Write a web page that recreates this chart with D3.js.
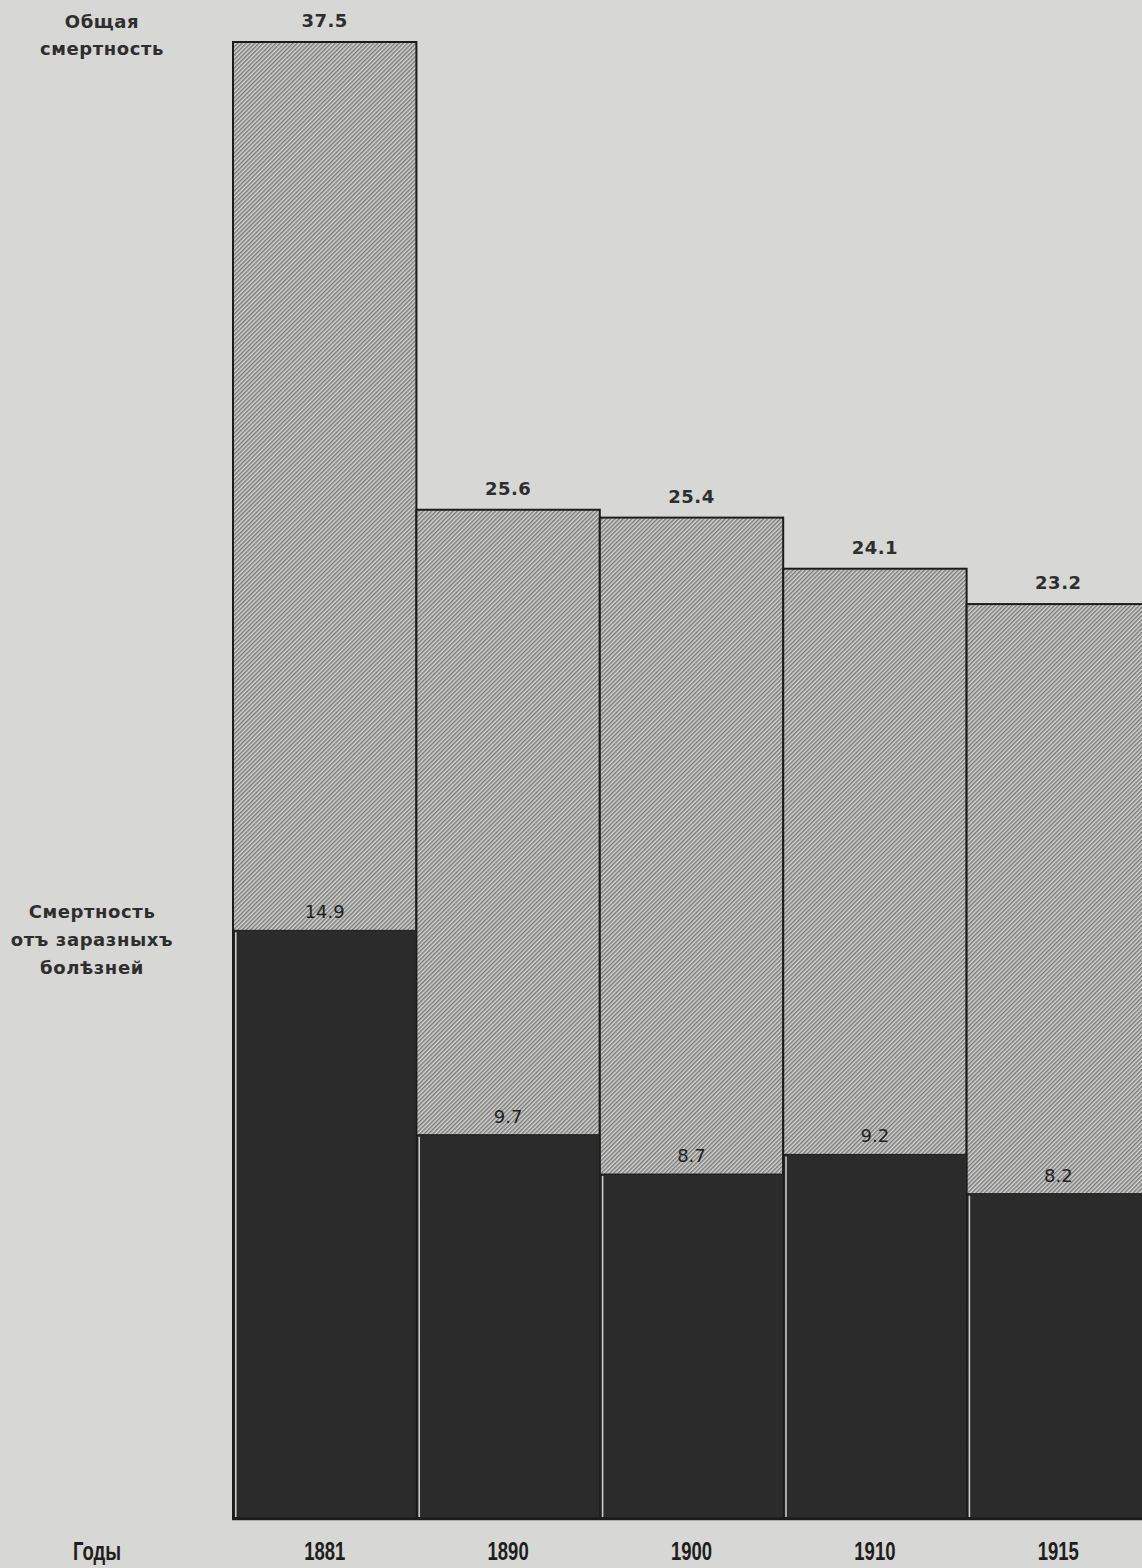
<!DOCTYPE html>
<html>
<head>
<meta charset="utf-8">
<script src="https://cdn.jsdelivr.net/npm/d3@7"></script>
<style>
  body { margin: 0; background: #d7d7d5; overflow: hidden; }
  svg { display: block; }
</style>
</head>
<body>
<div id="chart"></div>
<script>
// data
const years = ["1881", "1890", "1900", "1910", "1915"];
const totalMortality = [37.5, 25.6, 25.4, 24.1, 23.2];
const infectiousMortality = [14.9, 9.7, 8.7, 9.2, 8.2];
const totalLabel = ["Общая", "смертность"];
const infectiousLabel = ["Смертность", "отъ заразныхъ", "болѣзней"];
const yearsLabel = "Годы";

const W = 1142, H = 1568;
const labelFont = "'DejaVu Sans', 'Liberation Sans', sans-serif";
const yearFont = "'Liberation Sans', Arial, sans-serif";

const svg = d3.select("#chart").append("svg")
  .attr("width", W).attr("height", H);

// fine hatch pattern "/"
const defs = svg.append("defs");
const pat = defs.append("pattern")
  .attr("id", "hatch")
  .attr("patternUnits", "userSpaceOnUse")
  .attr("width", 3).attr("height", 3)
  .attr("patternTransform", "rotate(45)");
pat.append("rect").attr("width", 3).attr("height", 3).attr("fill", "#d4d4d2");
pat.append("line")
  .attr("x1", 0.75).attr("x2", 0.75).attr("y1", 0).attr("y2", 3)
  .attr("stroke", "#767676").attr("stroke-width", 1.4);

// scales
const x = d3.scaleBand().domain(years).range([233, 1150]).padding(0);
const y = d3.scaleLinear().domain([0, 37.5]).range([1516, 42]);
const base = 1519;

const rows = years.map((yr, i) => ({ yr, total: totalMortality[i], inf: infectiousMortality[i] }));

// hatched total bars
svg.selectAll("rect.total").data(rows).join("rect")
  .attr("class", "total")
  .attr("x", d => x(d.yr))
  .attr("y", d => y(d.total))
  .attr("width", x.bandwidth())
  .attr("height", d => base - y(d.total))
  .attr("fill", "url(#hatch)")
  .attr("stroke", "#1c1c1c")
  .attr("stroke-width", 2);

// dark infectious bars
svg.selectAll("rect.inf").data(rows).join("rect")
  .attr("class", "inf")
  .attr("x", d => x(d.yr) + 1)
  .attr("y", d => y(d.inf))
  .attr("width", x.bandwidth() - 1)
  .attr("height", d => base - y(d.inf) - 1)
  .attr("fill", "#2b2b2b")
  .attr("stroke", "#1c1c1c")
  .attr("stroke-width", 1);

// light separator lines on left edges of the dark bars
svg.selectAll("line.sep").data(rows).join("line")
  .attr("class", "sep")
  .attr("x1", d => x(d.yr) + 2.8).attr("x2", d => x(d.yr) + 2.8)
  .attr("y1", d => y(d.inf) + 2).attr("y2", base - 2)
  .attr("stroke", "#c8c8c6")
  .attr("stroke-width", 1.6);

// bottom line
svg.append("line")
  .attr("x1", x(years[0]) - 1).attr("x2", W)
  .attr("y1", base).attr("y2", base)
  .attr("stroke", "#1c1c1c").attr("stroke-width", 2.5);

// total value labels
svg.selectAll("text.tv").data(rows).join("text")
  .attr("class", "tv")
  .attr("x", d => x(d.yr) + x.bandwidth() / 2)
  .attr("y", d => y(d.total) - 15)
  .attr("text-anchor", "middle")
  .style("font-family", labelFont)
  .style("font-size", "18px")
  .style("font-weight", "bold")
  .style("letter-spacing", "0.5px")
  .style("fill", "#2e2e2e")
  .text(d => d.total.toFixed(1));

// infectious value labels
svg.selectAll("text.iv").data(rows).join("text")
  .attr("class", "iv")
  .attr("x", d => x(d.yr) + x.bandwidth() / 2)
  .attr("y", d => y(d.inf) - 12)
  .attr("text-anchor", "middle")
  .style("font-family", labelFont)
  .style("font-size", "18px")
  .style("fill", "#222")
  .text(d => d.inf.toFixed(1));

// year labels (condensed)
svg.selectAll("text.yr").data(rows).join("text")
  .attr("class", "yr")
  .attr("transform", d => `translate(${x(d.yr) + x.bandwidth() / 2},1560) scale(0.74,1)`)
  .attr("text-anchor", "middle")
  .style("font-family", yearFont)
  .style("font-size", "25px")
  .style("font-weight", "bold")
  .style("fill", "#1e1e1e")
  .text(d => d.yr);

// left side labels
function leftLabel(lines, cx, y0, dy) {
  svg.append("g").selectAll("text").data(lines).join("text")
    .attr("x", cx)
    .attr("y", (d, i) => y0 + i * dy)
    .attr("text-anchor", "middle")
    .style("font-family", labelFont)
    .style("font-size", "18px")
    .style("font-weight", "bold")
    .style("letter-spacing", "0.6px")
    .style("fill", "#2e2e2e")
    .text(d => d);
}
leftLabel(totalLabel, 102, 28, 27);
leftLabel(infectiousLabel, 92, 918, 28);

svg.append("text")
  .attr("transform", "translate(97,1560) scale(0.74,1)")
  .attr("text-anchor", "middle")
  .style("font-family", yearFont)
  .style("font-size", "25px")
  .style("font-weight", "bold")
  .style("fill", "#1e1e1e")
  .text(yearsLabel);
</script>
</body>
</html>
